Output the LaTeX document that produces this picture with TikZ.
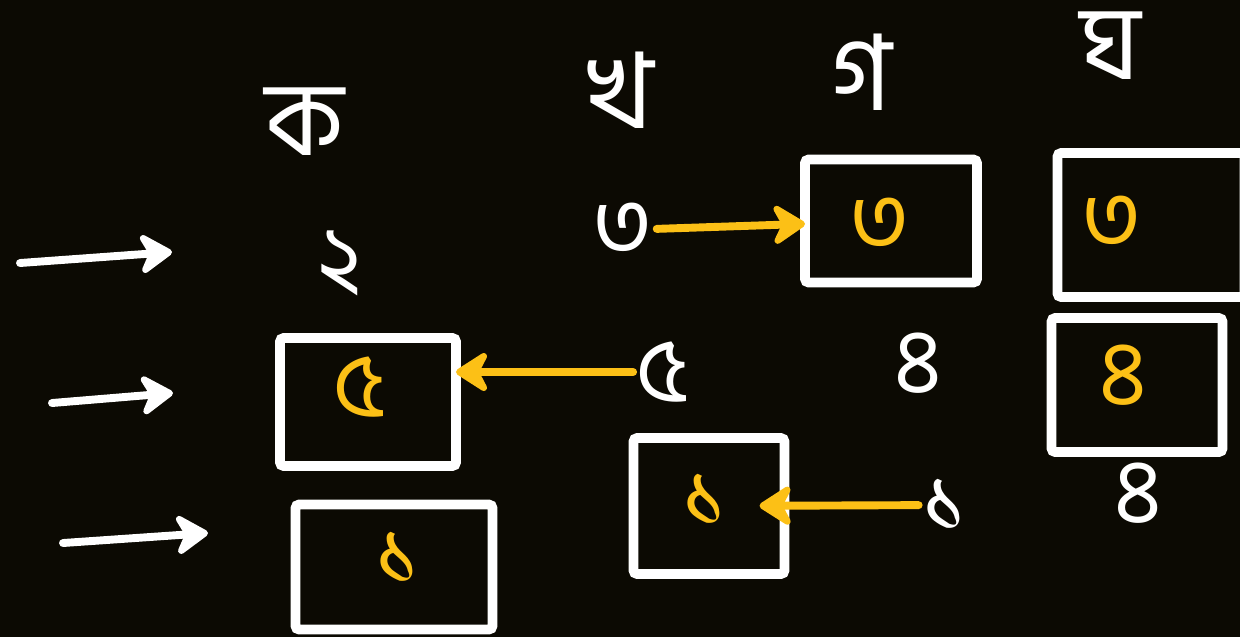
\documentclass[tikz,border=0pt]{standalone}
\usepackage{fontspec}
\newfontfamily\bengalifont[Script=Bengali]{Hind Siliguri}
\usetikzlibrary{
    positioning,
    arrows.meta
}
\definecolor{board}{RGB}{12,10,3}
\definecolor{marker}{RGB}{252,192,22}
\tikzset{%
    header/.style={%
        text=white,
        inner sep = 0pt,
        outer sep = 0pt,
        font=\bengalifont\fontsize{60}{64}\selectfont
    },
    value/.style={%
        text=white,
        inner sep = 0pt,
        outer sep = 2pt,
        font=\bengalifont\fontsize{52}{56}\selectfont
    },
    copied value/.style={%
        value,
        text=marker,
    },
    cell/.style={%
        rectangle,
        draw=white,
        line width=5.5pt,
        rounded corners=2pt,
        inner sep = 0pt,
        outer sep = 0pt,
    },
    arrow/.style={%
        -{Stealth[round, length=22pt, width=28pt]},
    },
    pointer/.style={%
        color=white,
        line width=4.5pt,
        line cap=round,
    },
    copy/.style={%
        color=marker,
        line width=4.5pt,
        line cap=round,
    },
}

\begin{document}
\begin{tikzpicture}[x=0.02cm, y=-0.02cm]
    \path[use as bounding box, fill=board] (0,0) rectangle (1240,637);

    % column heads
    \node[header] (ka) at (305,122) {ক};
    \node[header] (kha) at (620,90) {খ};
    \node[header] (ga) at (862,72) {গ};
    \node[header] (gha) at (1110,46) {ঘ};

    % cells
    \node[cell, minimum width=3.44cm, minimum height=2.46cm] (G1) at (891,221) {};
    \node[cell, minimum width=3.74cm, minimum height=2.88cm] (Gh1) at (1151,225) {};
    \node[cell, minimum width=3.42cm, minimum height=2.68cm] (Gh2) at (1137,385) {};
    \node[cell, minimum width=3.52cm, minimum height=2.56cm] (K2) at (368,402) {};
    \node[cell, minimum width=3.94cm, minimum height=2.50cm] (K3) at (394,567) {};
    \node[cell, minimum width=3.02cm, minimum height=2.72cm] (Kh3) at (709,506) {};

    % values
    \node[value] (two) at (340,263) {২};
    \node[value] (three) at (623,230) {৩};
    \node[value] (five) at (663,372) {৫};
    \node[value] (four) at (918,363) {৪};
    \node[value] (one) at (945,505) {১};
    \node[value] (fourB) at (1138,493) {৪};

    \node[copied value] (G1v) at (880,225) {৩};
    \node[copied value] (Gh1v) at (1112,223) {৩};
    \node[copied value] (Gh2v) at (1123,375) {৪};
    \node[copied value] (K2v) at (360,387) {৫};
    \node[copied value] (K3v) at (398,558) {১};
    \node[copied value] (Kh3v) at (705,500) {১};

    % row pointers
    \coordinate (in1) at (20,263);
    \coordinate (out1) at (172,252);
    \coordinate (in2) at (52,403);
    \coordinate (out2) at (173,393);
    \coordinate (in3) at (63,543);
    \coordinate (out3) at (208,533);

    \draw[pointer] (in1) edge[arrow] (out1);
    \draw[pointer] (in2) edge[arrow] (out2);
    \draw[pointer] (in3) edge[arrow] (out3);

    \draw[copy] (three) edge[arrow] (G1);
    \draw[copy] (five.west) edge[arrow] (five.west -| K2.east);
    \draw[copy] (one) edge[arrow, shorten >=-0.5cm] (Kh3);
\end{tikzpicture}
\end{document}
